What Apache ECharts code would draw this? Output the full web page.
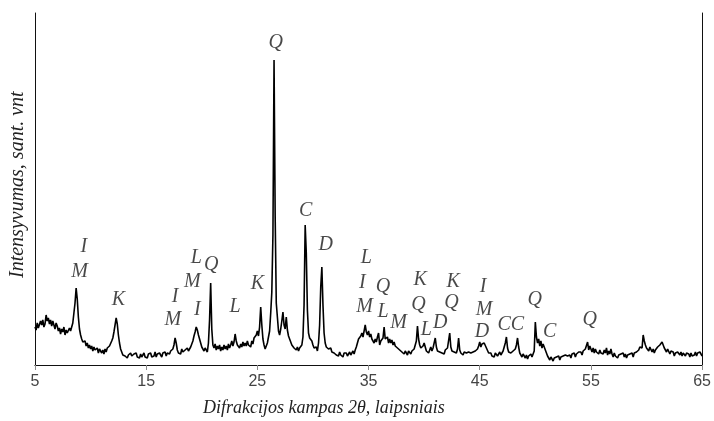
<!DOCTYPE html>
<html>
<head>
<meta charset="utf-8">
<script src="https://cdn.jsdelivr.net/npm/echarts@6/dist/echarts.min.js"></script>
<style>
  html, body { margin: 0; padding: 0; background: #fff; }
  #chart { width: 714px; height: 421px; }
</style>
</head>
<body>
<div id="chart"></div>
<script>
// Scan grid: 2θ from 5° to 65° in 0.1° steps
const angleStart = 5.0;
const angleStep = 0.1;

// Measured intensity (relative units), one row per degree (x.0 ... x.9)
const intensity = [
  38, 35, 42, 37, 36, 44, 40, 45, 38, 41,   // 5
  50, 44, 47, 41, 45, 39, 44, 40, 36, 42,   // 6
  39, 34, 37, 31, 36, 33, 38, 30, 35, 32,   // 7
  33, 37, 34, 38, 42, 52, 62, 77, 66, 48,   // 8
  36, 30, 26, 23, 21, 24, 19, 22, 17, 20,   // 9
  16, 19, 14, 18, 15, 13, 17, 12, 16, 14,   // 10
  12, 15, 11, 16, 13, 17, 15, 19, 21, 24,   // 11
  27, 33, 40, 47, 41, 30, 22, 16, 13, 10,   // 12
  12, 9, 11, 7, 10, 8, 12, 9, 7, 11,        // 13
  9, 12, 8, 10, 7, 11, 8, 10, 12, 8,        // 14
  10, 7, 11, 9, 12, 8, 10, 9, 13, 8,        // 15
  11, 9, 12, 10, 8, 12, 10, 13, 9, 12,      // 16
  13, 11, 14, 12, 16, 20, 27, 22, 15, 12,   // 17
  14, 11, 16, 13, 12, 15, 13, 17, 14, 16,   // 18
  18, 21, 24, 29, 33, 38, 35, 30, 26, 22,   // 19
  18, 16, 14, 17, 15, 13, 22, 45, 82, 36,   // 20
  20, 17, 21, 15, 19, 16, 20, 14, 18, 15,   // 21
  20, 16, 19, 15, 21, 17, 20, 24, 19, 23,   // 22
  31, 24, 20, 22, 17, 21, 18, 23, 19, 22,   // 23
  19, 24, 20, 22, 18, 24, 21, 27, 25, 30,   // 24
  34, 29, 38, 58, 40, 26, 20, 16, 19, 22,   // 25
  22, 34, 52, 73, 130, 305, 150, 62, 48, 34, // 26
  30, 36, 44, 53, 40, 36, 48, 35, 29, 26,   // 27
  24, 20, 22, 17, 19, 15, 18, 14, 17, 16,   // 28
  20, 28, 60, 140, 112, 55, 32, 27, 29, 24, // 29
  20, 17, 15, 18, 14, 22, 40, 78, 98, 60,   // 30
  32, 22, 18, 20, 16, 14, 17, 13, 15, 12,   // 31
  13, 10, 12, 9, 13, 10, 11, 8, 12, 10,     // 32
  12, 9, 11, 13, 10, 12, 14, 11, 15, 18,    // 33
  22, 26, 24, 29, 32, 28, 34, 40, 33, 30,   // 34
  34, 28, 31, 26, 24, 22, 26, 23, 28, 32,   // 35
  20, 24, 22, 27, 38, 26, 24, 28, 22, 26,   // 36
  22, 25, 20, 23, 19, 21, 17, 18, 15, 16,   // 37
  13, 15, 11, 14, 12, 10, 14, 12, 11, 14,   // 38
  13, 16, 18, 24, 39, 26, 20, 17, 15, 19,   // 39
  22, 18, 14, 16, 12, 15, 18, 14, 17, 16,   // 40
  27, 18, 14, 16, 13, 15, 12, 14, 11, 15,   // 41
  13, 17, 15, 32, 18, 14, 16, 13, 15, 12,   // 42
  16, 27, 15, 12, 14, 10, 13, 11, 12, 10,   // 43
  13, 11, 12, 10, 13, 11, 14, 12, 16, 19,   // 44
  23, 18, 21, 19, 22, 20, 17, 15, 12, 10,   // 45
  12, 9, 11, 8, 12, 10, 9, 11, 13, 10,      // 46
  12, 14, 18, 22, 28, 17, 13, 11, 12, 10,   // 47
  14, 12, 16, 20, 27, 18, 12, 10, 8, 11,    // 48
  9, 7, 10, 6, 9, 7, 11, 8, 10, 14,         // 49
  43, 28, 22, 26, 19, 24, 17, 21, 22, 15,   // 50
  12, 9, 7, 5, 8, 6, 4, 7, 5, 8,            // 51
  6, 9, 5, 8, 6, 9, 7, 10, 8, 9,            // 52
  8, 10, 7, 11, 9, 12, 8, 11, 10, 13,       // 53
  11, 13, 10, 14, 12, 16, 18, 23, 15, 19,   // 54
  18, 13, 17, 12, 16, 13, 15, 11, 15, 12,   // 55
  14, 11, 15, 12, 17, 10, 14, 11, 16, 11,   // 56
  8, 12, 9, 11, 7, 10, 8, 11, 9, 12,        // 57
  8, 11, 7, 10, 8, 11, 9, 12, 8, 12,        // 58
  10, 13, 11, 15, 18, 20, 17, 30, 24, 20,   // 59
  17, 19, 14, 18, 16, 13, 16, 12, 15, 14,   // 60
  18, 16, 20, 19, 23, 21, 17, 15, 13, 16,   // 61
  15, 11, 14, 12, 13, 9, 12, 10, 13, 11,    // 62
  10, 13, 9, 12, 11, 9, 12, 10, 11, 8,      // 63
  12, 9, 11, 10, 13, 9, 12, 10, 13, 11,     // 64
  9                                         // 65
];

// Phase labels: text, angle, height
const phaseText = ['I', 'M', 'K', 'I', 'M', 'L', 'Q', 'M', 'I', 'L', 'K', 'Q', 'C', 'D',
  'L', 'I', 'M', 'Q', 'L', 'M', 'K', 'Q', 'L', 'D', 'K', 'Q', 'I', 'M', 'D', 'CC', 'Q', 'C', 'Q'];
const phaseAngle = [9.4, 9.0, 12.5, 17.6, 17.4, 19.5, 20.85, 19.15, 19.6, 23.0, 25.0, 26.65, 29.35, 31.15,
  34.8, 34.45, 34.65, 36.3, 36.3, 37.7, 39.65, 39.5, 40.2, 41.45, 42.6, 42.45, 45.3, 45.4, 45.2, 47.8, 49.95, 51.3, 54.9];
const phaseHeight = [118, 93, 65, 68, 45, 107, 100, 83, 55, 58, 81, 322, 154, 120,
  107, 82, 58, 78, 53, 42, 85, 60, 35, 42, 83, 62, 78, 55, 33, 40, 65, 33, 45];

const xTicks = [5, 15, 25, 35, 45, 55, 65];

const pattern = intensity.map((v, i) => [Math.round((angleStart + i * angleStep) * 10) / 10, v]);
const phases = phaseText.map((t, i) => ({ value: [phaseAngle[i], phaseHeight[i]], name: t }));

const serif = '"Liberation Serif", "DejaVu Serif", serif';
const chart = echarts.init(document.getElementById('chart'), null, { renderer: 'canvas' });

chart.setOption({
  animation: false,
  backgroundColor: '#fff',
  grid: { left: 35, right: 9, top: 13, bottom: 56, containLabel: false },
  xAxis: [
    {
      type: 'value', position: 'bottom',
      min: xTicks[0], max: xTicks[xTicks.length - 1], interval: 10,
      axisLine: { show: true, lineStyle: { color: '#8a8a8a', width: 1 } },
      axisTick: { show: true, inside: false, length: 5, lineStyle: { color: '#8a8a8a' } },
      axisLabel: { color: '#444', fontFamily: '"Liberation Sans", Arial, sans-serif', fontSize: 16, margin: 9 },
      splitLine: { show: false }
    },
    {
      type: 'value', position: 'top', min: 5, max: 65,
      axisLine: { show: true, lineStyle: { color: '#111', width: 1 } },
      axisTick: { show: false }, axisLabel: { show: false }, splitLine: { show: false }
    }
  ],
  yAxis: [
    {
      type: 'value', position: 'left', min: 0, max: 352,
      axisLine: { show: true, lineStyle: { color: '#111', width: 1 } },
      axisTick: { show: false }, axisLabel: { show: false }, splitLine: { show: false }
    },
    {
      type: 'value', position: 'right', min: 0, max: 352,
      axisLine: { show: true, lineStyle: { color: '#111', width: 1 } },
      axisTick: { show: false }, axisLabel: { show: false }, splitLine: { show: false }
    }
  ],
  series: [
    {
      type: 'line', data: pattern, showSymbol: false, symbol: 'none',
      lineStyle: { color: '#000', width: 1.6 }, z: 3
    },
    {
      type: 'scatter', data: phases, symbolSize: 0, z: 4,
      label: {
        show: true, position: 'inside', formatter: p => p.name,
        color: '#1a1a1a', fontFamily: serif, fontStyle: 'italic', fontSize: 20
      }
    }
  ],
  graphic: [
    {
      type: 'text', left: 203, top: 399,
      style: { text: 'Difrakcijos kampas 2θ, laipsniais', fill: '#222', font: 'italic 18px ' + serif }
    },
    {
      type: 'text', x: 8, y: 278, rotation: Math.PI / 2,
      style: { text: 'Intensyvumas, sant. vnt', fill: '#222', font: 'italic 20px ' + serif }
    }
  ]
});
</script>
</body>
</html>
